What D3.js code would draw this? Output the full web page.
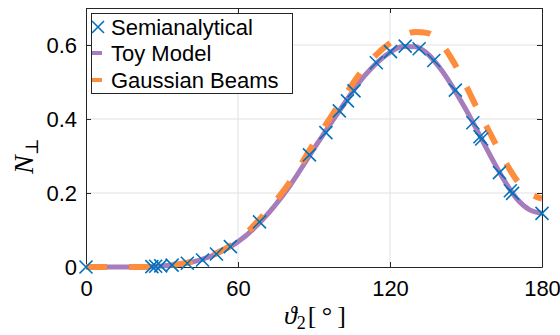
<!DOCTYPE html>
<html>
<head>
<meta charset="utf-8">
<script src="https://cdn.jsdelivr.net/npm/d3@7"></script>
<style>
  body { margin: 0; background: #fff; }
  svg { display: block; }
</style>
</head>
<body>
<svg id="chart" width="560" height="335"></svg>
<script>
// semianalytical points (markers)
const semiTheta = [0, 26, 27.5, 29.5, 34, 40, 46, 51.5, 57, 68.5, 88.2, 94.7, 100, 103.2, 105.8, 114.6, 120.2, 126, 131.5, 137.3, 145.8, 152.7, 155.5, 156.2, 163.2, 167.5, 168.4, 180];
const semiN = [0, 0.001, 0.002, 0.003, 0.005, 0.01, 0.019, 0.035, 0.055, 0.122, 0.303, 0.363, 0.422, 0.449, 0.476, 0.552, 0.582, 0.597, 0.59, 0.558, 0.478, 0.39, 0.352, 0.346, 0.255, 0.206, 0.199, 0.145];

// toy model curve
const toyTheta = [0, 10, 20, 30, 40, 50, 60, 70, 80, 90, 100, 110, 120, 125, 130, 135, 140, 150, 160, 165, 170, 175, 180];
const toyN = [0, 0, 0, 0.003, 0.01, 0.031, 0.068, 0.13, 0.215, 0.32, 0.422, 0.517, 0.58, 0.596, 0.595, 0.575, 0.535, 0.425, 0.296, 0.235, 0.185, 0.155, 0.145];

// gaussian beams curve
const gaussTheta = [0, 10, 20, 30, 40, 50, 60, 70, 80, 90, 100, 110, 120, 125, 130, 135, 140, 145, 150, 155, 160, 165, 170, 175, 180];
const gaussN = [0, 0, 0, 0.003, 0.012, 0.033, 0.072, 0.14, 0.225, 0.335, 0.44, 0.54, 0.605, 0.625, 0.635, 0.632, 0.605, 0.555, 0.49, 0.42, 0.355, 0.29, 0.235, 0.2, 0.185];

const xTicks = [0, 60, 120, 180];
const yTicks = [0, 0.2, 0.4, 0.6];
const legendLabels = ["Semianalytical", "Toy Model", "Gaussian Beams"];

const blue = "#0072bd", purple = "#a77cbb", orange = "#fd8d3c";

const svg = d3.select("#chart");
const pL = 86, pR = 542, pT = 8, pB = 267;

const x = d3.scaleLinear().domain([0, 180]).range([pL, pR]);
const y = d3.scaleLinear().domain([0, 0.7]).range([pB, pT]);

// grid
svg.append("g").selectAll("line").data(xTicks.slice(1, -1)).join("line")
  .attr("x1", d => x(d)).attr("x2", d => x(d)).attr("y1", pT).attr("y2", pB)
  .attr("stroke", "#e1e1e1").attr("stroke-width", 1);
svg.append("g").selectAll("line").data(yTicks.slice(1)).join("line")
  .attr("x1", pL).attr("x2", pR).attr("y1", d => y(d)).attr("y2", d => y(d))
  .attr("stroke", "#e1e1e1").attr("stroke-width", 1);

// axes (ticks inward, box)
const fontTick = "Liberation Sans, Arial, Helvetica, sans-serif";
const xAxis = svg.append("g").attr("transform", `translate(0,${pB})`)
  .call(d3.axisBottom(x).tickValues(xTicks).tickSizeInner(-5).tickSizeOuter(0).tickPadding(13));
const yAxis = svg.append("g").attr("transform", `translate(${pL},0)`)
  .call(d3.axisLeft(y).tickValues(yTicks).tickSizeInner(-5).tickSizeOuter(0).tickPadding(9)
    .tickFormat(d => d === 0 ? "0" : d3.format(".1f")(d)));
svg.append("g").attr("transform", `translate(0,${pT})`)
  .call(d3.axisTop(x).tickValues(xTicks).tickSizeInner(-5).tickSizeOuter(0).tickFormat(""));
svg.append("g").attr("transform", `translate(${pR},0)`)
  .call(d3.axisRight(y).tickValues(yTicks).tickSizeInner(-5).tickSizeOuter(0).tickFormat(""));
svg.selectAll(".domain, .tick line").attr("stroke", "#262626").attr("stroke-width", 1);
svg.selectAll(".tick text").attr("fill", "#000").style("font-family", fontTick).style("font-size", "22px");
xAxis.selectAll(".tick text").attr("dy", "0.71em");

// curves
svg.append("clipPath").attr("id", "clip").append("rect")
  .attr("x", pL).attr("y", pT).attr("width", pR - pL).attr("height", pB - pT + 4);
const plot = svg.append("g").attr("clip-path", "url(#clip)");

const line = d3.line().x(d => x(d[0])).y(d => y(d[1])).curve(d3.curveMonotoneX);
plot.append("path").datum(d3.zip(toyTheta, toyN)).attr("d", line)
  .attr("fill", "none").attr("stroke", purple).attr("stroke-width", 5);
plot.append("path").datum(d3.zip(gaussTheta, gaussN)).attr("d", line)
  .attr("fill", "none").attr("stroke", orange).attr("stroke-width", 6)
  .attr("stroke-dasharray", "21,22");

// markers
const cross = (g, cx, cy, r) => g.append("path")
  .attr("d", `M${cx - r},${cy - r}L${cx + r},${cy + r}M${cx - r},${cy + r}L${cx + r},${cy - r}`)
  .attr("stroke", blue).attr("stroke-width", 1.6).attr("fill", "none");
const mg = svg.append("g");
d3.zip(semiTheta, semiN).forEach(d => cross(mg, x(d[0]), y(d[1]), 6.5));

// legend
const lg = svg.append("g");
lg.append("rect").attr("x", 91.5).attr("y", 13.5).attr("width", 201).attr("height", 80)
  .attr("fill", "#fff").attr("stroke", "#262626").attr("stroke-width", 1);
const rowY = [27, 53, 80];
cross(lg, 98, rowY[0], 6);
lg.append("line").attr("x1", 92).attr("x2", 102).attr("y1", rowY[1]).attr("y2", rowY[1])
  .attr("stroke", purple).attr("stroke-width", 4);
lg.append("line").attr("x1", 92).attr("x2", 102).attr("y1", rowY[2]).attr("y2", rowY[2])
  .attr("stroke", orange).attr("stroke-width", 4);
lg.selectAll("text").data(legendLabels).join("text")
  .attr("x", 111).attr("y", (d, i) => rowY[i]).attr("dy", "0.36em")
  .style("font-family", fontTick).style("font-size", "22px").text(d => d);

// axis labels
const fontMath = "Liberation Serif, DejaVu Serif, serif";
const xl = svg.append("text").attr("x", 284).attr("y", 324)
  .style("font-family", fontMath).style("font-size", "26px");
xl.append("tspan").style("font-style", "italic").text("\u03D1");
xl.append("tspan").attr("dy", 5).style("font-size", "18px").text("2");
xl.append("tspan").attr("dy", -5).attr("dx", 2).text("[\u2009\u00B0\u2009]");

const yl = svg.append("text").attr("transform", "translate(33,174) rotate(-90)")
  .style("font-family", fontMath).style("font-size", "28px");
yl.append("tspan").style("font-style", "italic").text("N");
yl.append("tspan").attr("dy", 5).style("font-size", "18px").text("\u22A5");
</script>
</body>
</html>
